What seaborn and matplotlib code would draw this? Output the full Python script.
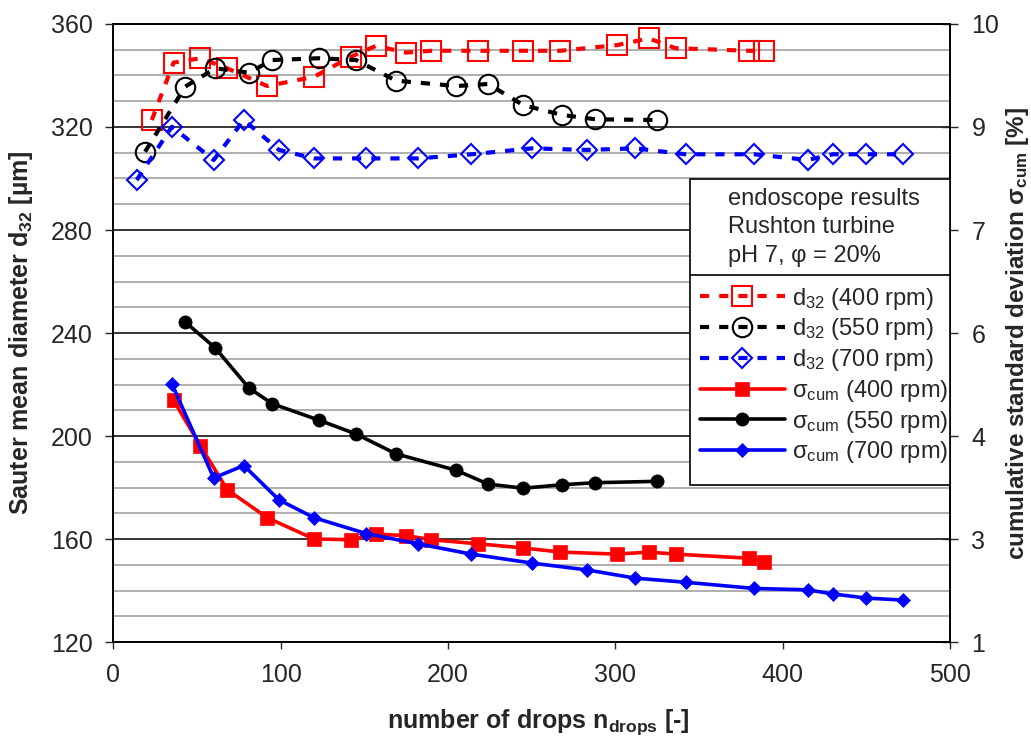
import matplotlib
matplotlib.use('Agg')
import matplotlib.pyplot as plt
from matplotlib.patches import Rectangle
import seaborn as sns

# values
# x = number of drops, d32 on the left axis [um], sigma_cum on the right axis [%]
# sigma_cum starts at the second point of each series
x_400 = [23, 36, 52, 68, 92, 120, 142, 157, 175, 190, 218, 245, 267, 301, 320, 336, 380, 389]
d32_400 = [322.7, 345.0, 346.7, 342.8, 335.9, 339.5, 347.3, 351.5, 348.9, 349.6, 349.6, 349.6,
           349.6, 351.8, 354.4, 350.6, 349.6, 349.6]
sig_400 = [4.52, 3.86, 3.22, 2.81, 2.50, 2.49, 2.57, 2.55, 2.49, 2.43, 2.37, 2.31, 2.28, 2.31,
           2.28, 2.22, 2.17]

x_550 = [19, 43, 61, 81, 95, 123, 145, 169, 205, 224, 245, 268, 288, 325]
d32_550 = [310.4, 335.7, 342.8, 341.1, 346.0, 346.7, 346.0, 338.0, 335.9, 336.7, 328.5, 324.7,
           323.0, 322.7]
sig_550 = [5.66, 5.28, 4.70, 4.47, 4.23, 4.03, 3.74, 3.50, 3.30, 3.24, 3.29, 3.32, 3.34]

x_700 = [14, 35, 60, 78, 99, 120, 151, 182, 214, 250, 283, 312, 342, 383, 415, 430, 450, 472]
d32_700 = [299.4, 320.1, 307.2, 322.7, 311.1, 307.8, 307.8, 307.8, 309.4, 311.7, 311.1, 311.7,
           309.4, 309.4, 307.2, 309.4, 309.4, 309.4]
sig_700 = [4.76, 3.39, 3.57, 3.07, 2.81, 2.58, 2.43, 2.28, 2.15, 2.05, 1.93, 1.87, 1.78, 1.76,
           1.70, 1.64, 1.61]

x_ticks = [0, 100, 200, 300, 400, 500]
left_ticks = [120, 160, 200, 240, 280, 320, 360]
right_ticks = [1, 2.5, 4, 5.5, 7, 8.5, 10]
right_ticklabels = ['1', '3', '4', '6', '7', '9', '10']
info_lines = ['endoscope results', 'Rushton turbine', 'pH 7, φ = 20%']

sns.set_style('white')
plt.rcParams['font.family'] = ['Liberation Sans', 'DejaVu Sans']
plt.rcParams['mathtext.default'] = 'regular'

FS = 18
LFS = 17

fig = plt.figure(figsize=(10.31, 7.36), dpi=100)
ax = fig.add_axes([0.1099, 0.1277, 0.8115, 0.8397])
ax2 = ax.twinx()

dash = (0, (2.2, 2.4))
d32_series = [(x_400, d32_400, 'red', 's', 14, '400'),
              (x_550, d32_550, 'black', 'o', 14, '550'),
              (x_700, d32_700, 'blue', 'D', 10, '700')]
for xs, ys, col, mk, ms, rpm in d32_series:
    sns.lineplot(x=xs, y=ys, ax=ax, color=col, ls=dash, lw=3, marker=mk, ms=ms,
                 mfc='none', mec=col, mew=1.5, estimator=None, sort=False,
                 label='d$_{32}$ (' + rpm + ' rpm)')

sig_series = [(x_400[1:], sig_400, 'red', 's', 9.5, '400'),
              (x_550[1:], sig_550, 'black', 'o', 9.5, '550'),
              (x_700[1:], sig_700, 'blue', 'D', 7.5, '700')]
for xs, ys, col, mk, ms, rpm in sig_series:
    sns.lineplot(x=xs, y=ys, ax=ax2, color=col, ls='-', lw=2.6, marker=mk, ms=ms,
                 mfc=col, mec=col, mew=0.5, estimator=None, sort=False,
                 label='σ$_{cum}$ (' + rpm + ' rpm)')

for a in (ax, ax2):
    if a.get_legend() is not None:
        a.get_legend().remove()

# axes, ticks, grid
ax.set_xlim(0, 500)
ax.set_xticks(x_ticks)
ax.set_ylim(120, 360)
ax.set_yticks(left_ticks)
ax.set_yticks(range(120, 361, 10), minor=True)
ax.grid(False)
ax.grid(which='minor', axis='y', color='#9a9a9a', lw=1.1)
ax.grid(which='major', axis='y', color='black', lw=1.1)
ax.set_axisbelow(True)
ax.tick_params(axis='y', which='major', direction='out', length=6, width=1, pad=9,
               labelsize=FS, left=True)
ax.tick_params(axis='y', which='minor', length=0)
ax.tick_params(axis='x', direction='out', length=5, width=1, pad=10, labelsize=FS, bottom=True)

ax2.set_ylim(1, 10)
ax2.set_yticks(right_ticks)
ax2.set_yticklabels(right_ticklabels)
ax2.grid(False)
ax2.tick_params(axis='y', direction='inout', length=11, width=1, pad=10, labelsize=FS, right=True)

for a in (ax, ax2):
    for s in a.spines.values():
        s.set_color('black')
        s.set_linewidth(1.2)

ax.set_xlabel('number of drops n$_{drops}$ [-]', fontsize=FS, fontweight='bold')
ax.xaxis.set_label_coords(0.508, -0.105)
ax.set_ylabel('Sauter mean diameter d$_{32}$ [µm]', fontsize=FS, fontweight='bold')
ax.yaxis.set_label_coords(-0.094, 0.5)
ax2.set_ylabel('cumulative standard deviation σ$_{cum}$ [%]', fontsize=17.5, fontweight='bold')
ax2.yaxis.set_label_coords(1.064, 0.5)

# info box + legend box
box = Rectangle((0.689, 0.254), 0.311, 0.495, transform=ax2.transAxes, facecolor='white',
                edgecolor='black', lw=1.2, zorder=5)
ax2.add_patch(box)
ax2.plot([0.689, 1.0], [0.594, 0.594], transform=ax2.transAxes, color='black', lw=1.2, zorder=6)
for i, line in enumerate(info_lines):
    ax2.text(0.735, 0.717 - i * 0.046, line, transform=ax2.transAxes, fontsize=LFS,
             va='center', ha='left', zorder=7)

handles = ax.get_lines()[:3] + ax2.get_lines()[:3]
labels = [h.get_label() for h in handles]
leg = ax2.legend(handles, labels, loc='upper left', bbox_to_anchor=(0.694, 0.586),
                 frameon=False, fontsize=LFS, handlelength=3.6, handletextpad=0.3,
                 labelspacing=0.2, borderaxespad=0, borderpad=0.25)
leg.set_zorder(8)

fig.savefig('out.png', dpi=100)
